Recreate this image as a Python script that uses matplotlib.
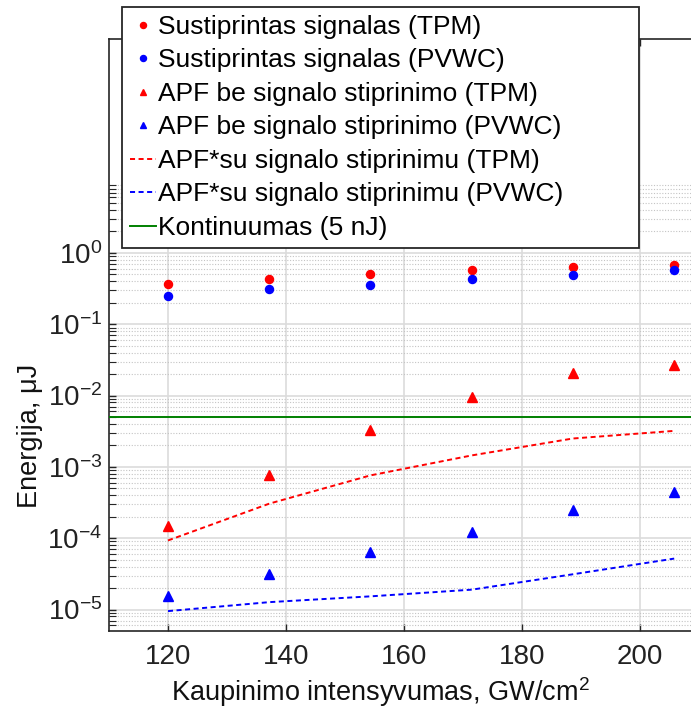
import matplotlib
matplotlib.use('Agg')
import matplotlib.pyplot as plt
from matplotlib.ticker import FixedLocator, LogFormatterSciNotation, NullFormatter

plt.rcParams['font.family'] = ['Liberation Sans', 'DejaVu Sans']
plt.rcParams['mathtext.fontset'] = 'custom'
plt.rcParams['mathtext.rm'] = 'Liberation Sans'
plt.rcParams['mathtext.it'] = 'Liberation Sans:italic'
plt.rcParams['mathtext.bf'] = 'Liberation Sans:bold'

# ---- data ----
intensity = [120.0, 137.2, 154.3, 171.5, 188.6, 205.8]
amp_tpm = [0.372, 0.437, 0.514, 0.585, 0.637, 0.687]
amp_pvwc = [0.247, 0.317, 0.360, 0.437, 0.492, 0.585]
apf_tpm = [1.47e-4, 7.6e-4, 3.26e-3, 9.4e-3, 2.07e-2, 2.65e-2]
apf_pvwc = [1.53e-5, 3.15e-5, 6.5e-5, 1.24e-4, 2.52e-4, 4.4e-4]
apfs_tpm = [9.3e-5, 3.06e-4, 7.6e-4, 1.45e-3, 2.5e-3, 3.2e-3]
apfs_pvwc = [9.5e-6, 1.27e-5, 1.53e-5, 1.9e-5, 3.12e-5, 5.18e-5]
continuum = 5e-3

labels = [
    "Sustiprintas signalas (TPM)",
    "Sustiprintas signalas (PVWC)",
    "APF be signalo stiprinimo (TPM)",
    "APF be signalo stiprinimo (PVWC)",
    "APF*su signalo stiprinimu (TPM)",
    "APF*su signalo stiprinimu (PVWC)",
    "Kontinuumas (5 nJ)",
]
x_ticks = [120, 140, 160, 180, 200]
y_major = [1e-5, 1e-4, 1e-3, 1e-2, 1e-1, 1e0]
y_minor = [k * 10.0 ** e for e in range(-6, 1) for k in range(2, 10)]
y_minor = [v for v in y_minor if v >= 5e-6]
xlabel = "Kaupinimo intensyvumas, GW/cm$^{2}$"
ylabel = "Energija, μJ"

W, H = 691, 709
fig = plt.figure(figsize=(W / 100, H / 100), dpi=100)
ax_left, ax_right, ax_top, ax_bottom = 109, 728.5, 39, 631
ax = fig.add_axes([ax_left / W, 1 - ax_bottom / H, (ax_right - ax_left) / W, (ax_bottom - ax_top) / H])

red, blue, green = '#ff0000', '#0000ff', '#008000'
dash = (0, (2.6, 1.8))

ax.plot(intensity, amp_tpm, 'o', color=red, ms=5.8, ls='none', label=labels[0], zorder=3)
ax.plot(intensity, amp_pvwc, 'o', color=blue, ms=5.8, ls='none', label=labels[1], zorder=3)
ax.plot(intensity, apf_tpm, '^', color=red, ms=6.5, ls='none', label=labels[2], zorder=3)
ax.plot(intensity, apf_pvwc, '^', color=blue, ms=6.5, ls='none', label=labels[3], zorder=3)
ax.plot(intensity, apfs_tpm, color=red, lw=1.4, ls=dash, label=labels[4], zorder=3)
ax.plot(intensity, apfs_pvwc, color=blue, lw=1.4, ls=dash, label=labels[5], zorder=3)
ax.axhline(continuum, color=green, lw=1.4, label=labels[6], zorder=3)

ax.set_yscale('log')
ax.set_xlim(110, 215)
ax.set_ylim(5e-6, 1e3)
ax.xaxis.set_major_locator(FixedLocator(x_ticks))
ax.yaxis.set_major_locator(FixedLocator(y_major))
ax.yaxis.set_minor_locator(FixedLocator(y_minor))
ax.yaxis.set_major_formatter(LogFormatterSciNotation())
ax.yaxis.set_minor_formatter(NullFormatter())

ax.grid(True, which='major', axis='both', color='#dcdcdc', lw=1.2, ls='-', zorder=0)
ax.grid(True, which='minor', axis='y', color='#c4c4c4', lw=0.8, ls=(0, (1, 1.5)), zorder=0)
ax.set_axisbelow(True)

spine_c = '#262626'
for s in ax.spines.values():
    s.set_color(spine_c)
    s.set_linewidth(1.2)
ax.tick_params(axis='both', which='both', direction='in', color=spine_c, top=True, right=True)
ax.tick_params(axis='x', which='major', length=5, width=1, labelsize=20, pad=9, labelcolor='#222222')
ax.tick_params(axis='y', which='major', length=5, width=1, labelsize=20, pad=5, labelcolor='#222222')
ax.tick_params(axis='y', which='minor', length=5, width=0.8)

ax.set_xlabel(xlabel, fontsize=19.5, color='#111111', va='top')
ax.xaxis.set_label_coords((380 - ax_left) / (ax_right - ax_left), -(675 - ax_bottom) / (ax_bottom - ax_top))
ax.set_ylabel(ylabel, fontsize=19.5, color='#111111')
ax.yaxis.set_label_coords((43 - ax_left) / (ax_right - ax_left), (ax_bottom - 436) / (ax_bottom - ax_top))

leg = ax.legend(loc='upper left',
                bbox_to_anchor=(122 / W, 1 - 7 / H, 517 / W, 0),
                bbox_transform=fig.transFigure, mode='expand', borderaxespad=0,
                fontsize=19, frameon=True, fancybox=False, framealpha=1,
                edgecolor=spine_c, handlelength=1.0, handletextpad=0.08,
                borderpad=0.3, labelspacing=0.36, markerscale=0.75)
leg.get_frame().set_linewidth(1.3)
leg.set_zorder(10)

fig.savefig('out.png', dpi=100)
